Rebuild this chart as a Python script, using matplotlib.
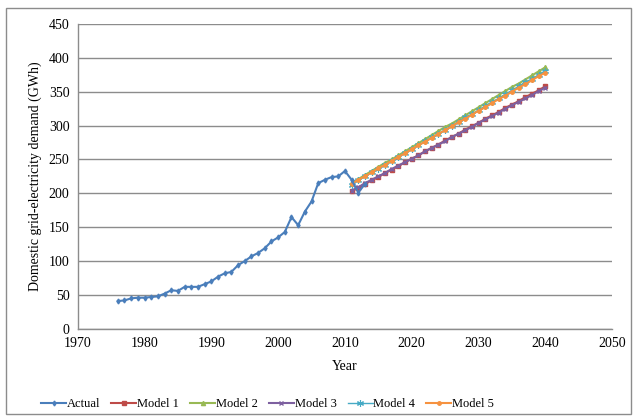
import matplotlib
matplotlib.use('Agg')
import matplotlib.pyplot as plt
from matplotlib.patches import Rectangle

plt.rcParams['font.family'] = ['Liberation Serif', 'DejaVu Serif']
plt.rcParams['font.size'] = 10

actual_years = list(range(1976, 2014))
actual = [41, 42, 45, 46, 46, 47, 48, 52, 57, 56,
          62, 62, 62, 66, 70, 77, 82, 84, 94, 100,
          107, 112, 119, 129, 135, 143, 165, 153, 173, 188,
          215, 220, 224, 225, 233, 220, 201, 214]

model_years = list(range(2011, 2041))
model1 = [203, 208, 214, 219, 224, 230, 235, 240, 246, 251,
          256, 262, 267, 272, 278, 283, 288, 294, 299, 304,
          310, 315, 320, 326, 331, 336, 342, 347, 352, 358]
model2 = [215, 221, 227, 233, 239, 245, 250, 256, 262, 268,
          274, 280, 286, 292, 298, 303, 309, 315, 321, 327,
          333, 339, 345, 351, 357, 362, 368, 374, 380, 386]
model3 = [204, 209, 215, 220, 225, 230, 236, 241, 246, 251,
          256, 262, 267, 272, 277, 283, 288, 293, 298, 304,
          309, 314, 319, 325, 330, 335, 340, 345, 351, 356]
model4 = [213, 219, 225, 231, 236, 242, 248, 254, 260, 265,
          271, 277, 283, 288, 294, 300, 306, 312, 317, 323,
          329, 335, 340, 346, 352, 358, 364, 369, 375, 381]
model5 = [214, 220, 225, 231, 237, 242, 248, 254, 259, 265,
          271, 276, 282, 288, 293, 299, 305, 310, 316, 322,
          327, 333, 339, 344, 350, 356, 361, 367, 373, 378]

fig = plt.figure(figsize=(6.37, 4.2), dpi=100)
ax = fig.add_axes([0.122, 0.217, 0.839, 0.726])

ax.plot(actual_years, actual, color='#4A7EBB', lw=1.5, marker='d', ms=2.5, label='Actual', zorder=3)
ax.plot(model_years, model1, color='#BE4B48', lw=1.5, marker='s', ms=2.5, label='Model 1')
ax.plot(model_years, model2, color='#98B954', lw=1.5, marker='^', ms=3, label='Model 2')
ax.plot(model_years, model3, color='#7D60A0', lw=1.5, marker='x', ms=3, mew=1, label='Model 3')
ax.plot(model_years, model4, color='#46AAC5', lw=1.0, marker=(6, 2, 0), ms=5, mew=0.8, label='Model 4')
ax.plot(model_years, model5, color='#F69240', lw=1.5, marker='o', ms=2.5, label='Model 5')

ax.set_xlim(1970, 2050)
ax.set_ylim(0, 450)
ax.set_xticks(range(1970, 2051, 10))
ax.set_yticks(range(0, 451, 50))
ax.yaxis.grid(True, color='#8C8C8C', lw=1)
ax.set_axisbelow(True)
for s in ['top', 'right']:
    ax.spines[s].set_visible(False)
for s in ['left', 'bottom']:
    ax.spines[s].set_color('#8C8C8C')
    ax.spines[s].set_linewidth(1)
ax.tick_params(length=0, pad=6, labelsize=10)
ax.set_xlabel('Year', fontsize=10, labelpad=7)
ax.set_ylabel('Domestic grid-electricity demand (GWh)', fontsize=10, labelpad=5)

ax.legend(loc='center', bbox_to_anchor=(0.42, 0.038), bbox_transform=fig.transFigure,
          ncol=6, frameon=False, handlelength=2.0, handletextpad=0.05, columnspacing=0.9,
          fontsize=9)

fig.patches.append(Rectangle((0.0095, 0.014), 0.981, 0.967, transform=fig.transFigure,
                             fill=False, edgecolor='#8C8C8C', lw=1))

fig.savefig('out.png', dpi=100)
